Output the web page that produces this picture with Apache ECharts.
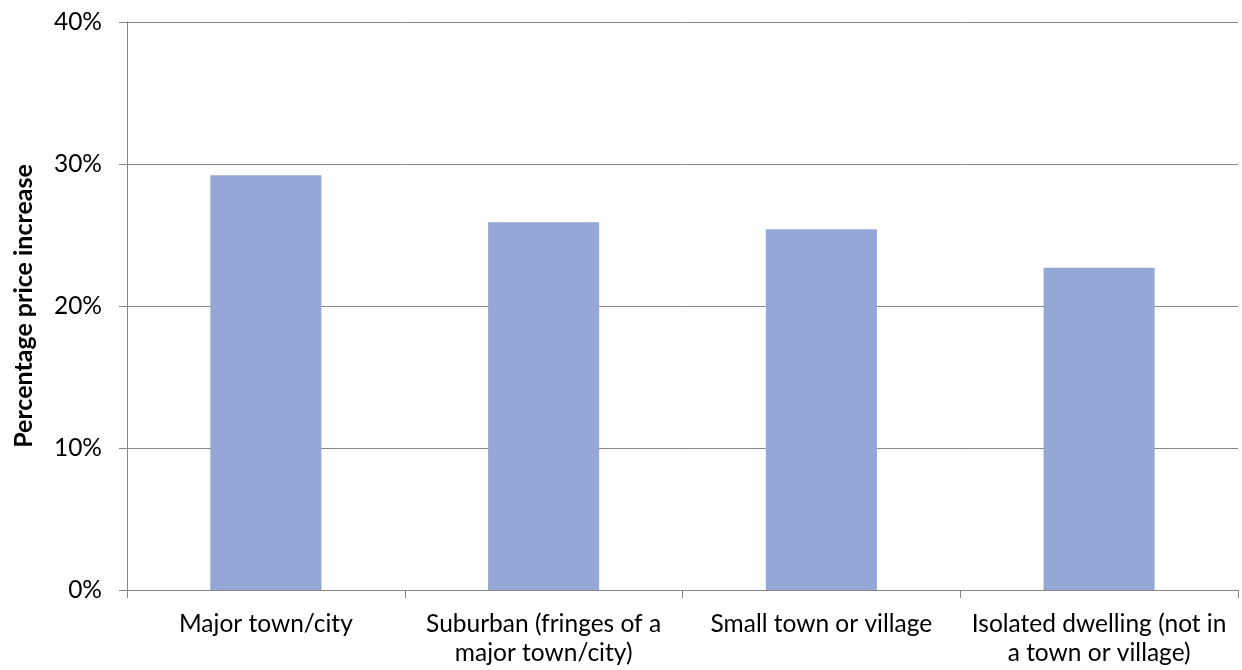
<!DOCTYPE html>
<html><head><meta charset="utf-8">
<script src="https://cdn.jsdelivr.net/npm/echarts@6/dist/echarts.min.js"></script>
<style>html,body{margin:0;padding:0;background:#fff}#c{width:1242px;height:670px}</style>
</head><body><div id="c"></div>
<script>
const categories = ["Major town/city", "Suburban (fringes of a\nmajor town/city)", "Small town or village", "Isolated dwelling (not in\na town or village)"];
const values = [29.2, 25.9, 25.4, 22.7];
const yTicks = [0, 10, 20, 30, 40];
const yTitle = "Percentage price increase";

const chart = echarts.init(document.getElementById('c'), null, {renderer: 'canvas'});
chart.setOption({
  animation: false,
  grid: {left: 127, right: 4, top: 22, bottom: 80, containLabel: false},
  xAxis: {
    type: 'category', data: categories,
    axisLine: {lineStyle: {color: '#868686', width: 1}},
    axisTick: {show: true, alignWithLabel: false, length: 8, lineStyle: {color: '#868686'}},
    axisLabel: {color: '#000', fontFamily: 'Lato', fontSize: 24.5, margin: 20, lineHeight: 29, interval: 0}
  },
  yAxis: {
    type: 'value', min: yTicks[0], max: yTicks[yTicks.length-1], interval: 10,
    name: yTitle, nameLocation: 'middle', nameGap: 91, nameRotate: 90,
    nameTextStyle: {color: '#000', fontFamily: 'Lato', fontWeight: 'bold', fontSize: 25},
    axisLine: {show: true, lineStyle: {color: '#868686', width: 1}},
    axisTick: {show: true, length: 8, lineStyle: {color: '#868686'}},
    axisLabel: {color: '#000', fontFamily: 'Lato', fontSize: 24.5, margin: 25, formatter: v => v + '%'},
    splitLine: {show: true, lineStyle: {color: '#868686', width: 1}}
  },
  series: [{
    type: 'bar', data: values, barWidth: '40%',
    itemStyle: {color: '#95A8D5'}
  }]
});
</script></body></html>
